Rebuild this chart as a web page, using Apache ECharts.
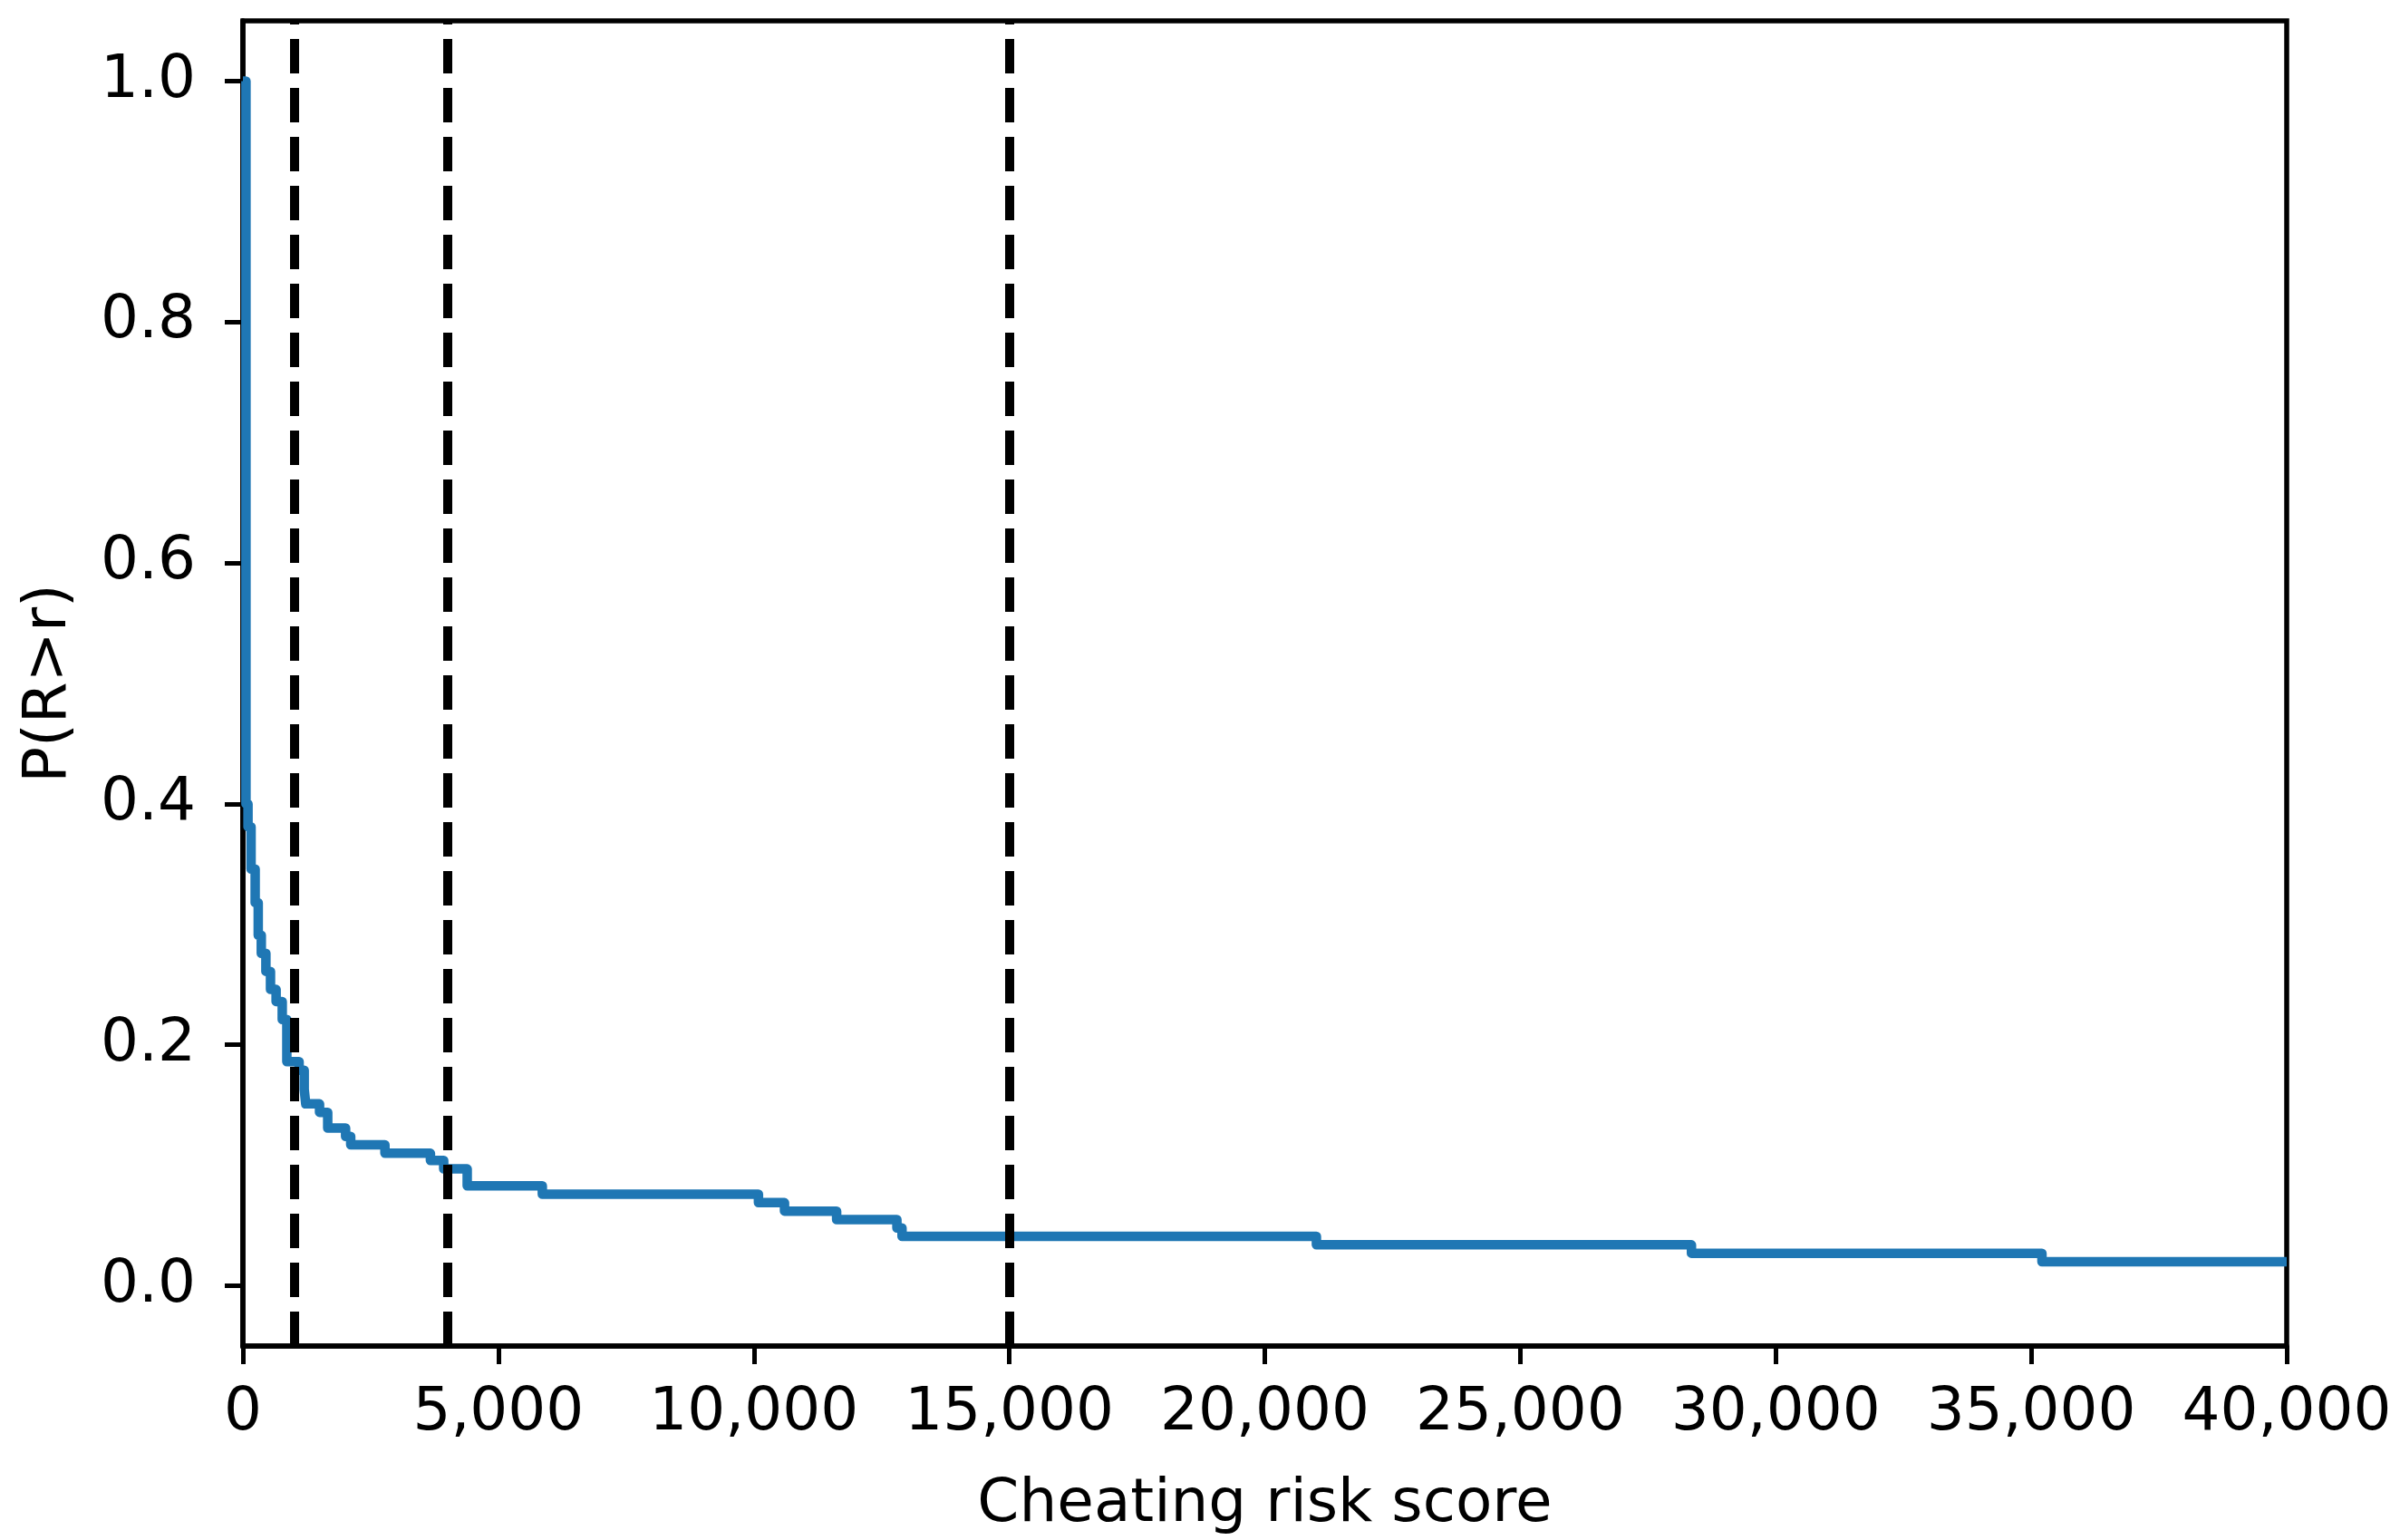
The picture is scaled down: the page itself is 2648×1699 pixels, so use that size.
<!DOCTYPE html>
<html>
<head>
<meta charset="utf-8">
<script src="https://cdn.jsdelivr.net/npm/echarts@6/dist/echarts.min.js"></script>
<style>
html,body{margin:0;padding:0;background:#fff;}
#chart{width:2648px;height:1699px;}
</style>
</head>
<body>
<div id="chart"></div>
<script>
// Cheating risk score (x) and survival probability P(R>r) (y), step-post
const riskScores = [0, 60, 100, 160, 240, 300, 360, 450, 540, 650, 770, 860, 1100, 1200, 1230, 1500, 1660, 2010, 2110, 2780, 3670, 3930, 4390, 5860, 10090, 10600, 11620, 12800, 12900, 21010, 28350, 35210, 40000];
const survival   = [1.0, 0.40, 0.381, 0.346, 0.318, 0.291, 0.276, 0.261, 0.246, 0.236, 0.221, 0.186, 0.179, 0.163, 0.151, 0.144, 0.131, 0.124, 0.117, 0.110, 0.104, 0.097, 0.083, 0.076, 0.069, 0.062, 0.055, 0.048, 0.041, 0.034, 0.027, 0.020, 0.020];
const thresholds = [1000, 4000, 15000];
const yTicks = [0, 0.2, 0.4, 0.6, 0.8, 1.0];
const xLabel = 'Cheating risk score';
const yLabel = 'P(R>r)';

const font = 'DejaVu Sans';
const chart = echarts.init(document.getElementById('chart'), null, {renderer: 'canvas'});
const pts = riskScores.map((x, i) => [x, survival[i]]);

chart.setOption({
  animation: false,
  backgroundColor: '#fff',
  grid: {left: 268, right: 125, top: 23, bottom: 212, show: true, borderColor: '#000', borderWidth: 5.5, backgroundColor: 'transparent'},
  xAxis: {
    type: 'value', min: 0, max: 40000, interval: 5000,
    name: xLabel, nameLocation: 'middle', nameGap: 143,
    nameTextStyle: {fontFamily: font, fontSize: 66, color: '#000'},
    axisLine: {show: true, onZero: false, lineStyle: {color: '#000', width: 5.5}},
    axisTick: {show: true, length: 20, lineStyle: {color: '#000', width: 5}},
    axisLabel: {fontFamily: font, fontSize: 66, color: '#000', margin: 42,
      formatter: v => v.toLocaleString('en-US')},
    splitLine: {show: false}
  },
  yAxis: {
    type: 'value', min: -0.05, max: 1.05,
    name: yLabel, nameLocation: 'middle', nameGap: 180, nameRotate: 90,
    nameTextStyle: {fontFamily: font, fontSize: 66, color: '#000'},
    axisLine: {show: true, onZero: false, lineStyle: {color: '#000', width: 5.5}},
    axisTick: {show: true, length: 20, lineStyle: {color: '#000', width: 5}, customValues: yTicks},
    axisLabel: {fontFamily: font, fontSize: 66, color: '#000', margin: 52, customValues: yTicks,
      formatter: v => v.toFixed(1)},
    splitLine: {show: false}
  },
  series: [
    {
      type: 'line', data: pts, step: 'end', showSymbol: false, symbol: 'none',
      lineStyle: {color: '#1f77b4', width: 10.5, join: 'round', cap: 'butt'},
      z: 2
    },
    {
      type: 'line', data: [], z: 5,
      markLine: {
        silent: true, symbol: ['none', 'none'], animation: false,
        label: {show: false},
        lineStyle: {color: '#000', width: 10, type: [38, 16]},
        emphasis: {disabled: true},
        data: thresholds.map(t => ({xAxis: t}))
      }
    }
  ]
});
</script>
</body>
</html>
